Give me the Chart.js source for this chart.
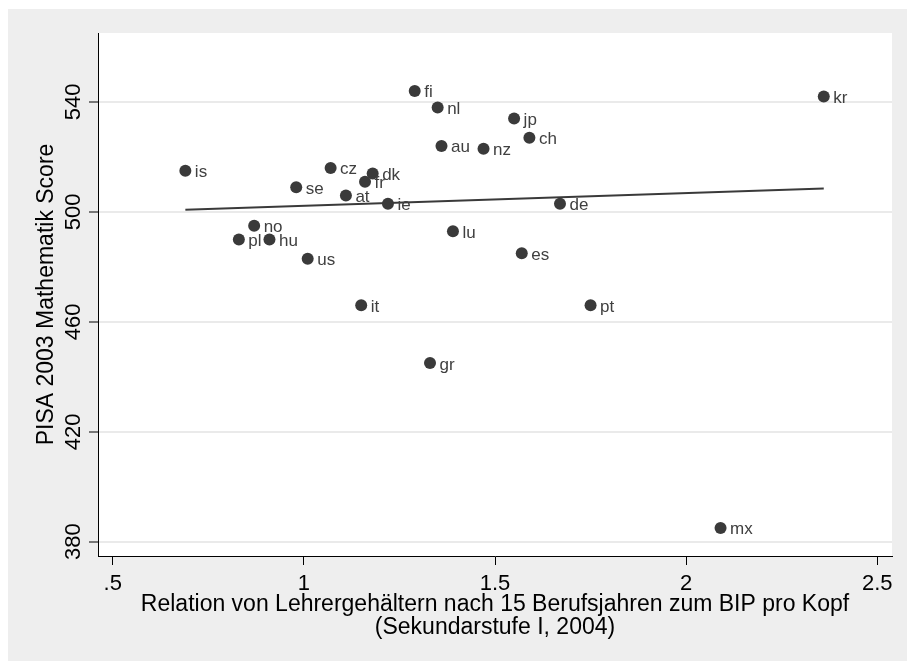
<!DOCTYPE html>
<html>
<head>
<meta charset="utf-8">
<script src="https://cdn.jsdelivr.net/npm/chart.js@4/dist/chart.umd.min.js"></script>
<style>
  body { margin: 0; background: #fff; }
  canvas { display: block; }
</style>
</head>
<body>
<canvas id="pisaChart" width="907" height="661"></canvas>
<script>
// Country codes and values
const countries = ['is', 'cz', 'dk', 'fr', 'se', 'at', 'ie', 'no', 'pl', 'hu', 'us', 'it',
                   'fi', 'kr', 'nl', 'jp', 'ch', 'au', 'nz', 'de', 'lu', 'es', 'pt', 'gr', 'mx'];
const salaryRatio = [0.69, 1.07, 1.18, 1.16, 0.98, 1.11, 1.22, 0.87, 0.83, 0.91, 1.01, 1.15,
                     1.29, 2.36, 1.35, 1.55, 1.59, 1.36, 1.47, 1.67, 1.39, 1.57, 1.75, 1.33, 2.09];
const mathScore = [515, 516, 514, 511, 509, 506, 503, 495, 490, 490, 483, 466,
                   544, 542, 538, 534, 527, 524, 523, 503, 493, 485, 466, 445, 385];

// Linear fit line, endpoints
const fitX = [0.69, 2.36];
const fitY = [500.8, 508.5];

const xTicks = [0.5, 1, 1.5, 2, 2.5];
const yTicks = [380, 420, 460, 500, 540];

const FONT = "'Liberation Sans', Arial, sans-serif";
const DARK = '#3a3a3a';

// Grey page with a white plot region, Stata style
const backdrop = {
    id: 'backdrop',
    beforeDraw(chart) {
        const { ctx, chartArea: a } = chart;
        ctx.save();
        ctx.fillStyle = '#ffffff';
        ctx.fillRect(0, 0, chart.width, chart.height);
        ctx.fillStyle = '#eeeeee';
        ctx.fillRect(8, 9, chart.width - 8, chart.height - 9);
        ctx.fillStyle = '#ffffff';
        ctx.fillRect(a.left, a.top, a.right - a.left, a.bottom - a.top);
        ctx.restore();
    }
};

// Country code next to each marker
const pointLabels = {
    id: 'pointLabels',
    afterDatasetsDraw(chart) {
        const { ctx } = chart;
        const meta = chart.getDatasetMeta(0);
        ctx.save();
        ctx.font = '17px ' + FONT;
        ctx.fillStyle = '#404040';
        ctx.textAlign = 'left';
        ctx.textBaseline = 'alphabetic';
        meta.data.forEach((pt, i) => {
            ctx.fillText(countries[i], pt.x + 9.5, pt.y + 6.5);
        });
        ctx.restore();
    }
};

const ctx = document.getElementById('pisaChart').getContext('2d');

new Chart(ctx, {
    type: 'scatter',
    data: {
        datasets: [
            {
                label: 'Länder',
                data: salaryRatio.map((x, i) => ({ x: x, y: mathScore[i] })),
                backgroundColor: DARK,
                borderColor: DARK,
                pointRadius: 6,
                pointHoverRadius: 6,
                borderWidth: 0
            },
            {
                type: 'line',
                label: 'Fit',
                data: fitX.map((x, i) => ({ x: x, y: fitY[i] })),
                borderColor: DARK,
                borderWidth: 2,
                pointRadius: 0,
                fill: false,
                tension: 0
            }
        ]
    },
    options: {
        responsive: false,
        animation: false,
        devicePixelRatio: 1,
        layout: { padding: { left: 8, top: 33, right: 15, bottom: 0 } },
        plugins: {
            legend: { display: false },
            tooltip: { enabled: false }
        },
        scales: {
            x: {
                type: 'linear',
                min: 0.4615,
                max: 2.5385,
                afterBuildTicks: (scale) => { scale.ticks = xTicks.map(v => ({ value: v })); },
                afterFit: (scale) => { scale.height = 105; },
                grid: {
                    drawOnChartArea: false,
                    drawTicks: true,
                    tickLength: 9,
                    tickColor: '#000',
                    tickWidth: 1
                },
                border: { color: '#000', width: 1 },
                ticks: {
                    color: '#000',
                    font: { family: FONT, size: 22 },
                    padding: 6,
                    maxRotation: 0,
                    callback: (v) => String(v).replace(/^0\./, '.')
                },
                title: {
                    display: true,
                    text: ['Relation von Lehrergehältern nach 15 Berufsjahren zum BIP pro Kopf',
                           '(Sekundarstufe I, 2004)'],
                    color: '#000',
                    font: { family: FONT, size: 23, lineHeight: 1 },
                    padding: { top: 0, bottom: 21.5 }
                }
            },
            y: {
                type: 'linear',
                min: 374.8,
                max: 565.1,
                afterBuildTicks: (scale) => { scale.ticks = yTicks.map(v => ({ value: v })); },
                afterFit: (scale) => { scale.width = 90; },
                grid: {
                    color: '#eaeaea',
                    lineWidth: 2,
                    drawTicks: true,
                    tickLength: 9,
                    tickColor: '#000',
                    tickWidth: 1
                },
                border: { color: '#000', width: 1 },
                ticks: {
                    color: '#000',
                    font: { family: FONT, size: 22 },
                    minRotation: 90,
                    maxRotation: 90,
                    crossAlign: 'center',
                    padding: -3
                },
                title: {
                    display: true,
                    text: 'PISA 2003 Mathematik Score',
                    color: '#000',
                    font: { family: FONT, size: 23, lineHeight: 1 },
                    padding: { top: 27, bottom: 0 }
                }
            }
        }
    },
    plugins: [backdrop, pointLabels]
});
</script>
</body>
</html>
